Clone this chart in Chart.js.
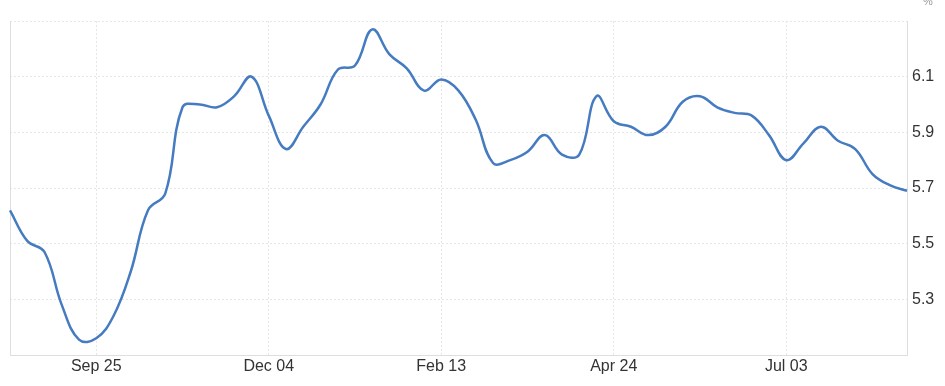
<!DOCTYPE html>
<html>
<head>
<meta charset="utf-8">
<script src="https://cdn.jsdelivr.net/npm/chart.js@4"></script>
<style>
    html, body { margin: 0; padding: 0; background: #fff; }
    #wrap { width: 945px; height: 386px; position: relative; }
</style>
</head>
<body>
<div id="wrap"><canvas id="rateChart"></canvas></div>
<script>
// weekly observations
const weeks = [
    'Aug 21', 'Aug 28', 'Sep 04', 'Sep 11', 'Sep 18', 'Sep 25', 'Oct 02', 'Oct 09', 'Oct 16', 'Oct 23',
    'Oct 30', 'Nov 06', 'Nov 13', 'Nov 20', 'Nov 27', 'Dec 04', 'Dec 11', 'Dec 18', 'Dec 25', 'Jan 01',
    'Jan 08', 'Jan 15', 'Jan 22', 'Jan 29', 'Feb 05', 'Feb 13', 'Feb 20', 'Feb 27', 'Mar 06', 'Mar 13',
    'Mar 20', 'Mar 27', 'Apr 03', 'Apr 10', 'Apr 17', 'Apr 24', 'May 01', 'May 08', 'May 15', 'May 22',
    'May 29', 'Jun 05', 'Jun 12', 'Jun 19', 'Jun 26', 'Jul 03', 'Jul 10', 'Jul 17', 'Jul 24', 'Jul 31',
    'Aug 07', 'Aug 14', 'Aug 21'
];

const rates = [
    5.62, 5.51, 5.47, 5.28, 5.155, 5.16, 5.24, 5.40, 5.62, 5.68,
    5.99, 6.00, 5.99, 6.03, 6.10, 5.96, 5.84, 5.92, 6.00, 6.125,
    6.14, 6.27, 6.18, 6.13, 6.05, 6.09, 6.05, 5.945, 5.79, 5.80,
    5.83, 5.89, 5.82, 5.82, 6.03, 5.94, 5.92, 5.89, 5.92, 6.01,
    6.03, 5.99, 5.97, 5.96, 5.89, 5.80, 5.86, 5.92, 5.87, 5.84,
    5.75, 5.71, 5.69
];

// labelled ticks
const tickWeeks = ['Sep 25', 'Dec 04', 'Feb 13', 'Apr 24', 'Jul 03'];
const rateTicks = [5.3, 5.5, 5.7, 5.9, 6.1];

const FONT = '"Liberation Sans", Arial, sans-serif';
const GRID = '#e6e6e6';
const EDGE = '#dedede';

// small unit marker above the value axis
const unitLabel = {
    id: 'unitLabel',
    afterDraw: function(chart) {
        const ctx = chart.ctx;
        ctx.save();
        ctx.font = '11px ' + FONT;
        ctx.fillStyle = '#999';
        ctx.textAlign = 'left';
        ctx.textBaseline = 'middle';
        ctx.fillText('%', chart.chartArea.right + 16, 2);
        ctx.restore();
    }
};

new Chart(document.getElementById('rateChart').getContext('2d'), {
    type: 'line',
    data: {
        labels: weeks,
        datasets: [{
            data: rates,
            borderColor: '#457bc0',
            borderWidth: 2.5,
            pointRadius: 0,
            tension: 0.4,
            fill: false,
            yAxisID: 'y'
        }]
    },
    options: {
        responsive: true,
        maintainAspectRatio: false,
        animation: false,
        layout: { padding: { top: 21, right: 0, bottom: 0, left: 0 } },
        plugins: {
            legend: { display: false },
            tooltip: { enabled: false }
        },
        scales: {
            x: {
                offset: false,
                afterBuildTicks: function(scale) {
                    scale.ticks = scale.ticks.filter(t => tickWeeks.includes(weeks[t.value]));
                },
                afterFit: function(scale) { scale.height = 31; },
                ticks: {
                    autoSkip: false,
                    maxRotation: 0,
                    padding: 2,
                    color: '#333',
                    font: { family: FONT, size: 16 }
                },
                grid: { color: GRID, drawTicks: false },
                border: { display: true, color: EDGE, dash: [2, 2] }
            },
            y: {
                position: 'right',
                min: 5.1,
                max: 6.3,
                afterFit: function(scale) { scale.width = 38; },
                ticks: {
                    stepSize: 0.2,
                    padding: 5,
                    color: '#333',
                    font: { family: FONT, size: 16 },
                    callback: function(v) {
                        return rateTicks.some(r => Math.abs(r - v) < 1e-6) ? v.toFixed(1) : '';
                    }
                },
                grid: { color: GRID, drawTicks: false },
                border: { display: true, color: EDGE, dash: [2, 2] }
            },
            yLeft: {
                position: 'left',
                afterFit: function(scale) { scale.width = 10; },
                ticks: { display: false },
                grid: { display: false },
                border: { display: true, color: EDGE }
            }
        }
    },
    plugins: [unitLabel]
});
</script>
</body>
</html>
